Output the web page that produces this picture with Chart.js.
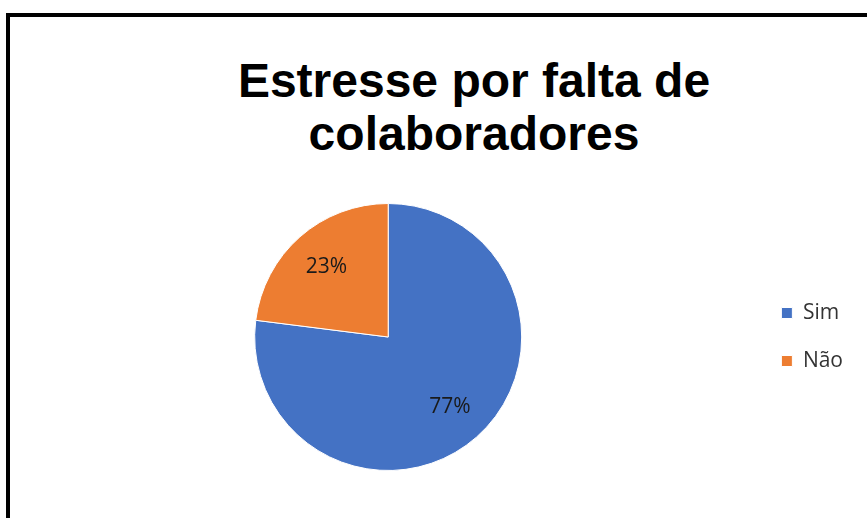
<!DOCTYPE html>
<html>
<head>
<meta charset="utf-8">
<script src="https://cdn.jsdelivr.net/npm/chart.js@4"></script>
<style>
  html, body { margin: 0; padding: 0; background: #fff; overflow: hidden; width: 867px; height: 518px; }
  .frame { position: absolute; left: 6px; top: 13px; width: 930px; height: 560px; border: 4px solid #000; background: #fff; }
  .title { position: absolute; left: 0; top: 37px; width: 928px; margin: 0; text-align: center;
           font: bold 48px/53px "Liberation Sans", Arial, sans-serif; color: #000; }
  .box { position: absolute; left: 12px; top: 186px; width: 831px; height: 268px; }
</style>
</head>
<body>
<div class="frame">
  <h1 class="title" id="title"></h1>
  <div class="box"><canvas id="pie"></canvas></div>
</div>
<script>
var categories = ["Sim", "Não"];
var values = [77, 23];
var colors = ["#4472C4", "#ED7D31"];
var titleLines = ["Estresse por falta de", "colaboradores"];

document.getElementById("title").innerHTML = titleLines.join("<br>");

// writes the percentage inside each slice
var sliceLabels = {
    id: 'sliceLabels',
    afterDatasetsDraw: function(chart) {
        var ctx = chart.ctx;
        var meta = chart.getDatasetMeta(0);
        var total = values.reduce(function(a, b) { return a + b; }, 0);
        ctx.save();
        ctx.font = '21px "Open Sans", sans-serif';
        ctx.fillStyle = '#1a1a1a';
        ctx.textAlign = 'center';
        ctx.textBaseline = 'middle';
        meta.data.forEach(function(arc, i) {
            var p = arc.getProps(['x', 'y', 'startAngle', 'endAngle', 'outerRadius'], true);
            var mid = (p.startAngle + p.endAngle) / 2;
            var r = p.outerRadius * 0.70;
            ctx.fillText(Math.round(values[i] / total * 100) + '%', p.x + Math.cos(mid) * r, p.y + Math.sin(mid) * r);
        });
        ctx.restore();
    }
};

new Chart(document.getElementById("pie"), {
    type: 'pie',
    data: {
        labels: categories,
        datasets: [{
            data: values,
            backgroundColor: colors,
            borderColor: '#fff',
            borderWidth: 1
        }]
    },
    plugins: [sliceLabels],
    options: {
        responsive: true,
        maintainAspectRatio: false,
        animation: false,
        plugins: {
            title: { display: false },
            legend: {
                position: 'right',
                labels: {
                    boxWidth: 11,
                    boxHeight: 11,
                    padding: 27,
                    color: '#333',
                    font: { family: '"Open Sans", sans-serif', size: 21 }
                }
            },
            tooltip: { enabled: false }
        }
    }
});
</script>
</body>
</html>
